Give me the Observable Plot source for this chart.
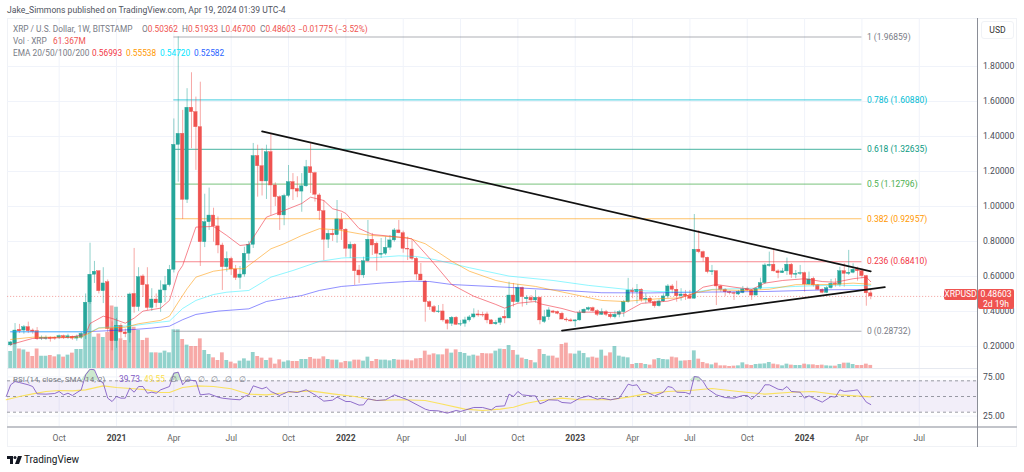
<!DOCTYPE html>
<html><head><meta charset="utf-8">
<script src="https://cdn.jsdelivr.net/npm/d3@7"></script>
<script src="https://cdn.jsdelivr.net/npm/@observablehq/plot@0.6"></script>
<style>
html,body{margin:0;padding:0;background:#fff;overflow:hidden}
#chart{position:relative;width:1024px;height:472px;font-family:Roboto,sans-serif;overflow:hidden}
#chart svg.layer{position:absolute;left:0;top:0;background:transparent;overflow:hidden}
.t{position:absolute;white-space:pre;font-size:8.3px;line-height:11px;color:#787b86}
.r{color:#ef5350}
#frame{position:absolute;left:7px;top:18px;width:1010px;height:429px;border:1px solid #f0f2f6;box-sizing:border-box}
#axisV{position:absolute;left:977px;top:18px;width:1.2px;height:429px;background:#8a8d96}
#axisH{position:absolute;left:7px;top:426px;width:1010px;height:1.6px;background:#c2c4ca}
#divider{position:absolute;left:7px;top:368px;width:970px;height:1px;background:#e6e9f0}
#usd{position:absolute;left:981px;top:21px;width:33px;height:18px;border:1px solid #f0f2f6;border-radius:3px;box-sizing:border-box;font-size:8.6px;line-height:16px;text-align:center;color:#333}
.tag{position:absolute;background:#ef5350;color:#fff;font-size:8.6px;line-height:9.5px;text-align:center;border-radius:2px}
</style></head><body>
<div id="chart"></div>
<script>
// Weekly XRP/USD candles from the week of 20 Jul 2020
const startWeek = Date.UTC(2020, 6, 20);
const opens = [.206,.215,.295,.291,.31,.291,.287,.244,.243,.25,
.25,.25,.259,.25,.255,.245,.25,.272,.45,.61,
.63,.516,.567,.3,.23,.318,.28,.276,.5,.425,
.6,.55,.42,.468,.447,.52,.55,.638,1.352,1.415,
1.038,1.564,1.539,1.453,.796,.91,.948,.886,.777,.653,
.7,.64,.592,.611,.73,.781,1.288,1.23,1.143,1.31,
1.12,1.053,.949,1.06,1.139,1.1,1.085,1.115,1.224,1.19,
1.063,.973,.81,.844,.836,.924,.867,.758,.781,.634,
.606,.687,.81,.787,.724,.73,.764,.806,.863,.847,
.758,.754,.701,.611,.571,.453,.425,.396,.4,.349,
.33,.364,.325,.33,.349,.366,.383,.38,.383,.349,
.327,.335,.37,.36,.491,.453,.535,.47,.478,.463,
.478,.34,.367,.4,.397,.387,.354,.349,.343,.349,
.39,.41,.419,.402,.381,.396,.381,.367,.381,.396,
.453,.52,.51,.524,.467,.473,.453,.43,.457,.486,
.543,.524,.487,.497,.487,.473,.753,.739,.707,.625,
.63,.543,.524,.51,.505,.497,.505,.53,.52,.491,
.53,.562,.66,.667,.629,.619,.629,.667,.61,.615,
.619,.554,.587,.549,.524,.507,.533,.558,.553,.63,
.615,.621,.638,.63,.602,.50362];
const highs = [.229,.331,.326,.32,.339,.3,.308,.26,.26,.255,
.255,.265,.265,.27,.26,.265,.28,.5,.79,.686,
.63,.65,.58,.34,.36,.33,.3,.505,.76,.65,
.61,.65,.53,.5,.575,.6,.663,1.5,1.96859,1.549,
1.673,1.764,1.625,1.71,1.07,1.105,.99,.94,.79,.74,
.71,.663,.657,.767,.8,1.36,1.35,1.33,1.35,1.415,
1.135,1.06,1.07,1.234,1.188,1.17,1.188,1.263,1.358,1.196,
1.073,1.034,.863,.87,1.034,.96,.874,.796,.787,.663,
.71,.92,.846,.796,.817,.825,.834,.874,.92,.859,
.825,.806,.709,.674,.577,.46,.434,.434,.44,.354,
.371,.371,.349,.367,.377,.415,.406,.396,.396,.353,
.349,.367,.406,.567,.56,.554,.539,.491,.491,.52,
.482,.406,.421,.406,.402,.396,.364,.358,.353,.406,
.415,.425,.425,.41,.415,.406,.39,.402,.406,.463,
.589,.533,.554,.53,.501,.482,.459,.467,.501,.554,
.554,.573,.53,.52,.52,.954,.863,.745,.71,.663,
.63,.549,.53,.514,.51,.52,.543,.539,.524,.535,
.59,.673,.739,.758,.638,.646,.705,.674,.634,.663,
.625,.625,.596,.554,.53,.543,.583,.587,.653,.673,
.749,.673,.653,.644,.606,.51933];
const lows = [.2,.206,.274,.27,.274,.27,.234,.234,.235,.225,
.235,.24,.24,.24,.235,.23,.24,.24,.44,.56,
.5,.445,.28,.175,.19,.245,.25,.22,.39,.4,
.48,.405,.4,.42,.395,.45,.54,.62,1.139,.926,
1.017,1.33,1.206,.657,.765,.863,.796,.73,.52,.625,
.606,.577,.526,.596,.69,.76,1.053,1.06,1.04,.949,
1,.863,.89,1.05,1.034,1.05,.967,1.11,1.074,1.025,
.92,.69,.76,.8,.79,.806,.71,.703,.549,.56,
.589,.682,.72,.63,.703,.72,.749,.796,.844,.733,
.691,.691,.577,.577,.339,.406,.389,.389,.339,.295,
.314,.32,.314,.31,.339,.358,.367,.367,.33,.326,
.32,.32,.33,.36,.425,.446,.425,.434,.453,.446,
.324,.331,.349,.387,.381,.353,.339,.339,.31,.345,
.387,.402,.396,.371,.377,.371,.358,.358,.364,.367,
.447,.473,.444,.453,.444,.444,.419,.425,.453,.473,
.501,.453,.459,.463,.469,.47,.73,.682,.615,.606,
.434,.51,.486,.495,.463,.491,.501,.514,.463,.491,
.524,.554,.653,.625,.587,.617,.606,.589,.587,.606,
.51,.549,.539,.52,.501,.501,.527,.539,.539,.539,
.606,.615,.573,.587,.43,.467];
const closes = [.223,.291,.286,.31,.287,.284,.242,.25,.25,.243,
.245,.259,.25,.258,.245,.255,.272,.45,.61,.627,
.516,.56,.3,.23,.318,.28,.27,.497,.425,.596,
.55,.42,.468,.447,.52,.55,.638,1.352,1.415,1.038,
1.564,1.539,1.453,.796,.91,.948,.886,.777,.653,.7,
.64,.592,.611,.73,.781,1.288,1.23,1.143,1.31,1.12,
1.053,.949,1.06,1.139,1.097,1.085,1.115,1.224,1.19,1.067,
.973,.81,.844,.835,.926,.867,.758,.781,.63,.606,
.687,.81,.777,.73,.73,.764,.806,.863,.847,.758,
.754,.701,.611,.577,.453,.425,.396,.4,.349,.33,
.364,.324,.327,.349,.366,.383,.377,.377,.349,.326,
.335,.36,.36,.491,.453,.535,.482,.478,.463,.478,
.349,.367,.406,.393,.387,.354,.349,.343,.349,.39,
.41,.419,.402,.381,.396,.381,.367,.381,.396,.453,
.52,.51,.524,.467,.473,.453,.43,.457,.486,.543,
.524,.487,.497,.487,.473,.753,.739,.707,.625,.63,
.543,.524,.51,.505,.501,.51,.526,.52,.491,.53,
.562,.663,.666,.629,.619,.629,.667,.61,.615,.619,
.554,.583,.549,.524,.507,.533,.558,.553,.63,.615,
.621,.638,.63,.602,.50362,.48603];
const volumes = [340,560,390,370,325,240,390,245,245,260,
233,273,227,267,307,380,380,700,1300,625,
690,620,720,1250,1225,595,560,825,825,760,
560,605,313,313,307,347,313,773,773,580,
467,440,440,593,360,280,213,160,313,160,
127,93,147,193,147,320,240,207,160,207,
87,173,127,153,140,140,180,180,220,187,
187,233,180,167,167,113,140,133,167,167,
147,227,140,180,167,167,153,180,167,167,
167,153,193,200,347,267,293,273,273,387,
307,373,320,300,247,267,247,300,293,293,
347,387,380,460,360,267,207,180,160,113,
380,280,247,247,207,480,507,293,287,347,
300,213,227,207,367,247,313,440,247,227,
213,80,100,100,80,67,173,200,180,173,
227,213,147,153,160,353,187,120,93,73,
107,53,53,40,47,53,113,73,60,80,
87,93,120,87,73,53,87,67,60,60,
87,73,73,60,67,53,47,47,80,107,
107,80,60,60,87,61.367];

// Moving averages as read at selected weeks
const ema20Weeks = [0,5,13,17,18,21,23,26,28,30,34,36,38,39,42,46,49,52,54,58,62,66,68,71,73,75,76,79,82,88,91,95,100,105,110,112,115,119,120,125,128,134,139,143,149,152,155,157,160,164,168,171,175,180,184,187,191,194,195];
const ema20Values = [.211,.246,.251,.269,.331,.373,.36,.333,.362,.402,.419,.463,.625,.663,.882,.886,.834,.777,.783,.939,.977,1.017,1.053,1.034,.987,.973,.96,.874,.84,.825,.815,.703,.554,.487,.44,.419,.447,.457,.444,.417,.396,.396,.39,.446,.459,.48,.503,.539,.554,.539,.526,.562,.577,.587,.571,.567,.587,.596,.56993];
const ema50Weeks = [0,5,16,20,26,29,34,36,38,40,42,46,50,53,55,59,62,66,70,74,79,82,90,94,100,104,110,113,119,127,134,139,142,147,152,155,159,167,172,178,186,191,195];
const ema50Values = [.24,.253,.253,.305,.31,.33,.349,.373,.453,.53,.596,.63,.644,.644,.682,.758,.787,.834,.873,.867,.844,.834,.821,.787,.687,.63,.577,.562,.543,.501,.463,.457,.463,.473,.478,.505,.524,.52,.527,.553,.554,.562,.55538];
const ema100Weeks = [0,17,18,20,28,32,36,39,42,46,49,54,59,64,70,75,76,82,88,92,96,104,113,123,131,142,147,155,159,171,178,186,195];
const ema100Values = [.284,.284,.282,.307,.32,.333,.345,.417,.463,.497,.51,.52,.596,.634,.686,.705,.707,.707,.718,.714,.697,.65,.602,.577,.549,.52,.514,.51,.526,.535,.543,.55,.5472];
const ema200Weeks = [0,17,28,32,36,39,42,47,54,58,66,70,75,78,84,91,95,100,112,123,134,145,155,171,186,195];
const ema200Values = [.284,.284,.297,.305,.316,.353,.383,.402,.415,.457,.491,.52,.543,.549,.562,.573,.571,.554,.539,.524,.507,.506,.51,.514,.524,.52582];

// RSI pane
const rsiWeeks = [-1,0,1,2,4,5,6,8,10,11,12,13,14,16,17,18,19,20,21,22,23,24,25,26,27,28,29,30,31,32,33,34,36,37,38,39,40,42,43,45,47,48,50,52,53,54,55,57,58,59,61,63,65,67,69,71,73,74,76,77,79,80,81,83,85,87,88,90,91,94,95,97,99,101,102,105,107,109,110,112,113,114,115,116,118,119,120,121,122,124,125,127,129,131,133,134,136,138,140,141,142,143,144,146,148,149,150,151,153,154,155,156,157,158,160,162,164,166,167,168,170,171,172,174,175,176,177,179,180,181,182,184,186,187,188,189,191,192,194,195];
const rsiValues = [50,64.9,69.1,67.8,64.9,62.7,53.4,53,53.8,56.4,52.1,54.2,51.3,58.5,77.6,84.8,84,71.2,67,47.9,43.6,50,47.9,47.9,60.6,55.5,62.7,62.7,54.2,55.5,54.2,58.5,62.7,79.7,81,64.9,71.2,70,52.1,53.4,49.2,47.9,46.6,45.8,50,52.1,63.6,59.8,61.9,56.4,51.3,56.4,55.1,58.5,52.1,44.1,45.3,49.2,43.6,43.6,39,39.4,47,44.9,45.8,52.1,50,45.8,42.8,33.9,32.2,31.7,28.8,32.2,30.9,36,36,33,37.3,38.1,53,50,56.4,52.1,50.8,50.8,40.7,42.8,45.8,45.3,42.4,41.5,47.9,50.8,46.6,47.9,45.8,47.9,65.7,64,64.9,56.4,56.4,50.8,55.5,62.7,61.5,55.5,55.1,53,75.5,74.6,69.1,59.8,52.1,48.7,47.9,51.3,51.3,46.6,56.4,64.9,64.9,59.3,58.5,62.7,56.4,55.5,47.9,50.8,47.9,42.8,50,49.2,58.5,56.4,57.6,58.5,42.8,39.73];
const rsiMaWeeks = [-1,2,5,8,11,14,17,21,24,28,31,34,36,39,42,46,50,54,58,63,68,73,78,83,89,94,98,103,107,111,114,117,120,125,129,136,140,144,149,154,159,165,171,177,182,188,195];
const rsiMaValues = [45.8,50,53.4,56.4,57.6,57.2,58.5,63.6,61.5,59.8,58.5,55.1,55.1,61.5,63.6,62.7,59.8,53,52.1,55.5,57.2,53.4,50,44.9,45.8,44.9,40.2,33.9,32.2,33.9,36.4,41.5,44.5,47.9,45.8,45.8,49.2,53.4,56.4,57.6,60.2,56.4,53,55.5,56.4,52.1,49.55];

// Fibonacci retracement levels
const fibRatios = ["1","0.786","0.618","0.5","0.382","0.236","0"];
const fibPrices = [1.96859,1.6088,1.32635,1.12796,.92957,.6841,.28732];
const fibColors = ["#787b86","#00bcd4","#089981","#4caf50","#ff9800","#f23645","#787b86"];
const fibStartWeek = 37, fibEndWeek = 193;
// Trend lines: [week, price]
const upperTrendWeeks = [57,195], upperTrendPrices = [1.429,.629];
const lowerTrendWeeks = [125,198.2], lowerTrendPrices = [.291,.539];
const lastPrice = .48603;

const priceTicks = [.2,.4,.6,.8,1,1.2,1.4,1.6,1.8];
const rsiTicks = [25,75];
const rsiBands = [30,50,70];
const monthTicks = [["2020-10-05","Oct"],["2021-04-05","Apr"],["2021-07-05","Jul"],["2021-10-04","Oct"],["2022-04-04","Apr"],["2022-07-04","Jul"],["2022-10-03","Oct"],["2023-04-03","Apr"],["2023-07-03","Jul"],["2023-10-02","Oct"],["2024-04-01","Apr"],["2024-07-01","Jul"]];
const yearTicks = [["2021-01-04","2021"],["2022-01-03","2022"],["2023-01-02","2023"],["2024-01-01","2024"]];

const UP = "#26a69a", DOWN = "#ef5350";
const weekDate = i => new Date(startWeek + i * 7 * 864e5);
const DAY = 864e5;
const candles = opens.map((o, i) => ({date: weekDate(i), o, h: highs[i], l: lows[i], c: closes[i], v: volumes[i]}));
const ups = candles.filter(d => d.c >= d.o), downs = candles.filter(d => d.c < d.o);
const series = (w, v) => w.map((x, i) => ({date: weekDate(x), v: v[i]}));
const xDomain = [new Date("2020-07-15"), new Date("2024-10-03")];
const tickDate = t => ({date: new Date(t[0]), label: t[1]});
const months = monthTicks.map(tickDate), years = yearTicks.map(tickDate), allTicks = months.concat(years);

const FONT = 'Roboto,sans-serif';
function layer(marks, y, marginTop, marginBottom) {
  const svg = Plot.plot({
    width: 1024, height: 472,
    marginLeft: 7, marginRight: 46, marginTop, marginBottom,
    x: {domain: xDomain, axis: null},
    y: {...y, axis: null},
    style: {background: "transparent", fontFamily: FONT, fontSize: "8.6px", overflow: "hidden"},
    marks
  });
  svg.classList.add("layer");
  return svg;
}
const priceY = {domain: [-.263, 2.074]};

// 1: grid behind everything
const gridLayer = layer([
  Plot.ruleX(allTicks, {x: "date", stroke: "#f0f3fa", strokeWidth: 1}),
  Plot.ruleY(priceTicks, {stroke: "#f0f3fa", strokeWidth: 1})
], priceY, 18, 45);

// 2: volume
const volBar = (data, fill) => Plot.rectY(data, {
  x1: d => new Date(+d.date - 3 * DAY), x2: d => new Date(+d.date + 3 * DAY), y: "v", fill, fillOpacity: .5});
const volumeLayer = layer([volBar(ups, UP), volBar(downs, DOWN)], {domain: [0, 7000]}, 18, 104);

// 3: prices
const wick = (data, stroke) => Plot.ruleX(data, {x: "date", y1: "l", y2: "h", stroke, strokeOpacity: .5, strokeWidth: 1});
const body = (data, fill) => Plot.rect(data, {
  x1: d => new Date(+d.date - 2.7 * DAY), x2: d => new Date(+d.date + 2.7 * DAY),
  y1: "o", y2: "c", fill, stroke: fill, strokeWidth: .4});
const emaLine = (w, v, stroke, op) => Plot.line(series(w, v), {x: "date", y: "v", stroke, strokeWidth: 1, strokeOpacity: op});
const priceLayer = layer([
  Plot.ruleY([lastPrice], {stroke: "#f08a88", strokeOpacity: .7, strokeWidth: 1, strokeDasharray: "1.2,1.8"}),
  ...fibPrices.map((p, i) => Plot.ruleY([p], {x1: weekDate(fibStartWeek), x2: weekDate(fibEndWeek), stroke: fibColors[i], strokeOpacity: .6, strokeWidth: i === 3 ? 1.3 : 1.1})),
  wick(ups, UP), wick(downs, DOWN), body(ups, UP), body(downs, DOWN),
  emaLine(ema200Weeks, ema200Values, "#2222ff", .5),
  emaLine(ema100Weeks, ema100Values, "#22eeff", .5),
  emaLine(ema50Weeks, ema50Values, "#ff9800", .55),
  emaLine(ema20Weeks, ema20Values, "#f23645", .6),
  Plot.line(series(upperTrendWeeks, upperTrendPrices), {x: "date", y: "v", stroke: "#111", strokeWidth: 1.7}),
  Plot.line(series(lowerTrendWeeks, lowerTrendPrices), {x: "date", y: "v", stroke: "#111", strokeWidth: 1.7}),
  ...fibPrices.map((p, i) => Plot.text([`${fibRatios[i]} (${p.toFixed(5)})`], {
    x: weekDate(fibEndWeek), y: p, text: d => d, textAnchor: "start", dx: 5, fill: fibColors[i], fontSize: 8.5})),
  Plot.axisY({anchor: "right", ticks: priceTicks, tickSize: 0, tickPadding: 4.5, tickFormat: d => d.toFixed(5), label: null, color: "#4a4d57", fontSize: 8.6}),
  Plot.text(months, {x: "date", text: "label", frameAnchor: "bottom", dy: 13, fill: "#666", fontSize: 8.6}),
  Plot.text(years, {x: "date", text: "label", frameAnchor: "bottom", dy: 13, fill: "#444", fontSize: 8.6, fontWeight: 700})
], priceY, 18, 45);

// 4: RSI
const rsiData = series(rsiWeeks, rsiValues);
const rsiLayer = layer([
  Plot.ruleY(rsiTicks, {stroke: "#f0f3fa", strokeWidth: 1}),
  Plot.rectY([0], {x1: xDomain[0], x2: xDomain[1], y1: rsiBands[0], y2: rsiBands[2], fill: "#7e57c2", fillOpacity: .1}),
  Plot.areaY(rsiData, {x: "date", y1: 70, y2: d => Math.max(d.v, 70), fill: "#4caf50", fillOpacity: .28}),
  Plot.areaY(rsiData, {x: "date", y1: 30, y2: d => Math.min(d.v, 30), fill: "#ef5350", fillOpacity: .18}),
  Plot.ruleY(rsiBands, {stroke: "#787b86", strokeOpacity: .75, strokeWidth: 1, strokeDasharray: "3,3"}),
  Plot.line(series(rsiMaWeeks, rsiMaValues), {x: "date", y: "v", stroke: "#fbe04f", strokeWidth: 1.1, strokeOpacity: .9}),
  Plot.line(rsiData, {x: "date", y: "v", stroke: "#7e57c2", strokeWidth: 1, strokeOpacity: .85}),
  Plot.axisY({anchor: "right", ticks: rsiTicks, tickSize: 0, tickPadding: 4.5, tickFormat: d => d.toFixed(2), label: null, color: "#4a4d57", fontSize: 8.6})
], {domain: [10.5, 85.7]}, 368, 45);

// Page chrome (text kept as real text)
const chart = document.getElementById("chart");
function html(s) { const d = document.createElement("div"); d.innerHTML = s; return d.firstElementChild; }
function txt(x, y, s, extra = "") { chart.appendChild(html(`<div class="t" style="left:${x}px;top:${y}px;${extra}">${s}</div>`)); }
chart.appendChild(html('<div id="frame"></div>'));
chart.appendChild(gridLayer);
chart.appendChild(volumeLayer);
chart.appendChild(rsiLayer);
chart.appendChild(priceLayer);
chart.appendChild(html('<div id="divider"></div>'));
chart.appendChild(html('<div id="axisH"></div>'));
chart.appendChild(html('<div id="axisV"></div>'));
chart.appendChild(html('<div id="usd">USD</div>'));
txt(7, 5, "Jake_Simmons published on TradingView.com, Apr 19, 2024 01:39 UTC-4", "color:#50535e;font-size:8.6px");
txt(13, 24, "XRP / U.S. Dollar, 1W, BITSTAMP");
txt(142, 24, 'O<span class="r">0.50362</span>');
txt(182, 24, 'H<span class="r">0.51933</span>');
txt(221, 24, 'L<span class="r">0.46700</span>');
txt(260, 24, 'C<span class="r">0.48603</span>');
txt(298, 24, '<span class="r">\u22120.01775 (\u22123.52%)</span>');
txt(13, 36, 'Vol \u00b7 XRP');
txt(53, 36, '<span class="r">61.367M</span>');
txt(13, 48, 'EMA 20/50/100/200');
txt(92, 48, '0.56993', "color:#f23645");
txt(126, 48, '0.55538', "color:#ff9800");
txt(160, 48, '0.54720', "color:#00e5ff");
txt(194, 48, '0.52582', "color:#2962ff");
txt(13, 374, 'RSI (14, close, SMA, 14, 2)', "font-size:8px");
txt(119, 374, '39.73', "color:#7e57c2");
txt(144, 374, '49.55', "color:#fbe04f");
[170, 184, 198, 211, 225, 239].forEach(x => txt(x, 374, "\u2205"));
chart.appendChild(html('<div class="tag" style="left:944px;top:289px;width:33px;height:11px;line-height:11px">XRPUSD</div>'));
chart.appendChild(html('<div class="tag" style="left:978px;top:289px;width:36px;height:20px;padding-top:1px;box-sizing:border-box">0.48603<br>2d 19h</div>'));
chart.appendChild(html('<svg style="position:absolute;left:7px;top:456px" width="15" height="8" viewBox="0 0 15 8"><path d="M0 0h6v8H3V3H0z" fill="#131722"/><circle cx="8" cy="1.6" r="1.5" fill="#131722"/><path d="M11 0h4l-3 8H8z" fill="#131722"/></svg>'));
txt(24, 454, "TradingView", "color:#131722;font-size:10px");
</script>
</body></html>
